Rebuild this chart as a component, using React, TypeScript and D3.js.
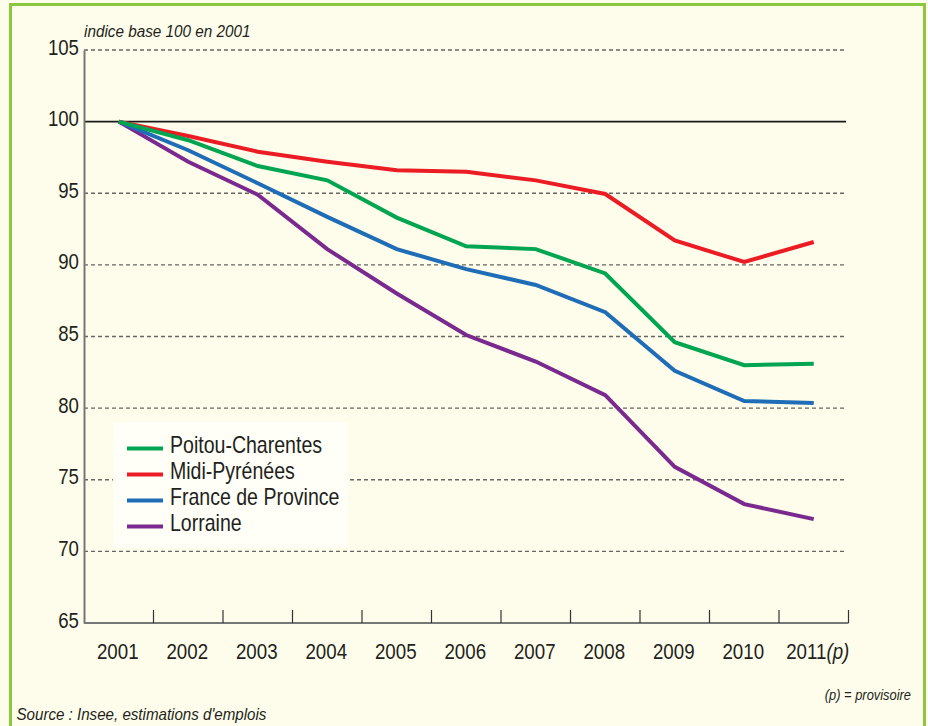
import { useEffect, useRef } from "react";
import * as d3 from "d3";

const years = ["2001", "2002", "2003", "2004", "2005", "2006", "2007", "2008", "2009", "2010", "2011"];

const poitouCharentes = [100, 98.7, 96.9, 95.9, 93.3, 91.3, 91.1, 89.4, 84.6, 83.0, 83.1];
const midiPyrenees = [100, 99.0, 97.9, 97.2, 96.6, 96.5, 95.9, 94.95, 91.7, 90.2, 91.6];
const franceDeProvince = [100, 98.0, 95.7, 93.35, 91.1, 89.7, 88.6, 86.7, 82.6, 80.5, 80.35];
const lorraine = [100, 97.2, 94.9, 91.1, 88.0, 85.1, 83.25, 80.9, 75.9, 73.3, 72.25];

const seriesNames = ["Poitou-Charentes", "Midi-Pyrénées", "France de Province", "Lorraine"];
const seriesColors = ["#00a551", "#ec1c24", "#1f6db6", "#7a2a8e"];

const yTicks = [65, 70, 75, 80, 85, 90, 95, 100, 105];

const FONT = "'Liberation Sans', Arial, sans-serif";
const INK = "#231f20";

export default function App() {
    const svgRef = useRef<SVGSVGElement>(null);

    useEffect(() => {
        const svg = d3.select(svgRef.current);
        svg.selectAll("*").remove();

        const width = 928;
        const height = 726;
        const left = 84;
        const right = 848.5;
        const top = 50;
        const bottom = 623;

        svg.attr("viewBox", `0 0 ${width} ${height}`)
            .attr("width", width)
            .attr("height", height);

        // the source font is a condensed sans, so squeeze Liberation Sans horizontally
        const label = (
            px: number,
            py: number,
            text: string,
            size: number,
            squeeze: number,
            opts: { italic?: boolean; anchor?: string } = {}
        ) =>
            svg.append("text")
                .attr("transform", `translate(${px},${py}) scale(${squeeze},1)`)
                .attr("text-anchor", opts.anchor || "start")
                .attr("font-family", FONT)
                .attr("font-size", size)
                .attr("font-style", opts.italic ? "italic" : "normal")
                .attr("fill", INK)
                .text(text);

        // background + green frame
        svg.append("rect")
            .attr("width", width)
            .attr("height", height)
            .attr("fill", "#fefdeb");
        svg.append("rect")
            .attr("x", 10.5)
            .attr("y", 4.5)
            .attr("width", 914)
            .attr("height", 740)
            .attr("fill", "none")
            .attr("stroke", "#8dc63f")
            .attr("stroke-width", 3);

        const x = d3.scaleBand().domain(years).range([left, right]).padding(0);
        const y = d3.scaleLinear().domain([65, 105]).range([bottom, top]);

        // grid lines
        svg.append("g")
            .selectAll("line")
            .data(yTicks.filter((t) => t > 65))
            .join("line")
            .attr("x1", left)
            .attr("x2", 846)
            .attr("y1", (d) => y(d))
            .attr("y2", (d) => y(d))
            .attr("stroke", (d) => (d === 100 ? "#1a1a1a" : "#666"))
            .attr("stroke-width", (d) => (d === 100 ? 1.6 : 1.3))
            .attr("stroke-dasharray", (d) => (d === 100 ? null : "4,3"));

        // y axis
        const yAxis = svg.append("g")
            .attr("transform", `translate(${left},0)`)
            .call(d3.axisLeft(y).tickValues(yTicks).tickSize(0).tickPadding(6));
        yAxis.select(".domain").attr("stroke", "#777").attr("stroke-width", 2);
        yAxis.selectAll("text")
            .attr("font-family", FONT)
            .attr("font-size", 22)
            .attr("fill", INK)
            .attr("dy", 4)
            .attr("transform", "scale(0.845,1)");

        // x axis with inward ticks at band edges
        const xAxis = svg.append("g").attr("transform", `translate(0,${bottom})`);
        xAxis.append("line")
            .attr("x1", left)
            .attr("x2", right)
            .attr("stroke", "#777")
            .attr("stroke-width", 2);
        xAxis.selectAll("line.tick")
            .data(years)
            .join("line")
            .attr("class", "tick")
            .attr("x1", (d) => (x(d) as number) + x.bandwidth())
            .attr("x2", (d) => (x(d) as number) + x.bandwidth())
            .attr("y1", 0)
            .attr("y2", -13)
            .attr("stroke", "#333")
            .attr("stroke-width", 1.2);
        const xLabels = xAxis.selectAll("text")
            .data(years)
            .join("text")
            .attr("transform", (d) =>
                `translate(${(x(d) as number) + x.bandwidth() / 2 + (d === "2011" ? 4 : -1)},36) scale(0.85,1)`)
            .attr("text-anchor", "middle")
            .attr("font-family", FONT)
            .attr("font-size", 22)
            .attr("fill", INK);
        xLabels.append("tspan").text((d) => d);
        xLabels.filter((d) => d === "2011")
            .append("tspan")
            .attr("font-style", "italic")
            .text("(p)");

        // series lines
        const allSeries = [poitouCharentes, midiPyrenees, franceDeProvince, lorraine];
        const line = d3.line<number>()
            .x((_, i) => (x(years[i]) as number) + x.bandwidth() / 2)
            .y((d) => y(d));
        [3, 2, 1, 0].forEach((k) => {
            svg.append("path")
                .datum(allSeries[k])
                .attr("d", line)
                .attr("fill", "none")
                .attr("stroke", seriesColors[k])
                .attr("stroke-width", 4)
                .attr("stroke-linejoin", "miter");
        });

        // legend
        svg.append("rect")
            .attr("x", 113)
            .attr("y", 422)
            .attr("width", 235)
            .attr("height", 125)
            .attr("fill", "#fffff8");
        seriesNames.forEach((name, i) => {
            const by = 452.5 + i * 26;
            svg.append("line")
                .attr("x1", 127)
                .attr("x2", 163)
                .attr("y1", by - 4)
                .attr("y2", by - 4)
                .attr("stroke", seriesColors[i])
                .attr("stroke-width", 4);
            label(170, by, name, 23, 0.85);
        });

        // captions
        label(84, 36.5, "indice base 100 en 2001", 17, 0.9, { italic: true });
        label(911, 700, "(p) = provisoire", 14, 0.92, { italic: true, anchor: "end" });
        label(16.5, 720, "Source : Insee, estimations d'emplois", 17, 0.89, { italic: true });
    }, []);

    return (
        <svg
            ref={svgRef}
            style={{ position: "absolute", left: 0, top: 0, display: "block" }}
        />
    );
}
